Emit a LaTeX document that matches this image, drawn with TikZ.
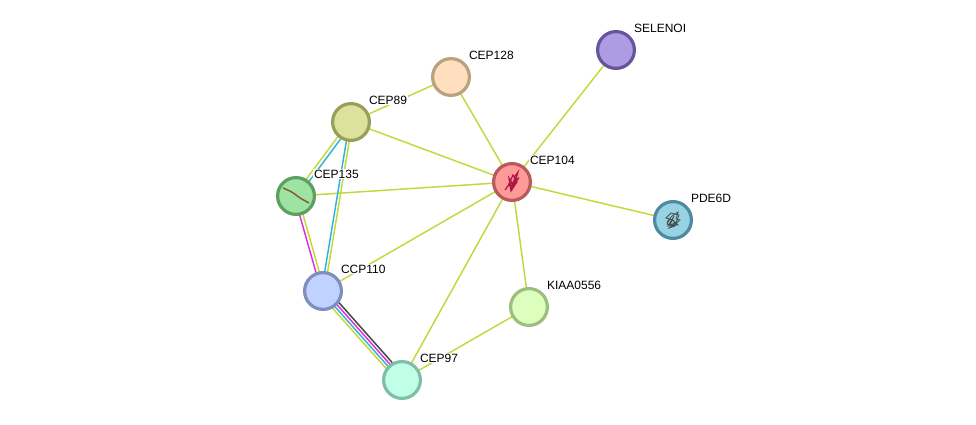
\documentclass[tikz,border=0pt]{standalone}
\usepackage{fontspec}
\setmainfont{Liberation Sans}
\usetikzlibrary{backgrounds}

\definecolor{linkgreen}{HTML}{C2D83C}
\definecolor{linkcyan}{HTML}{2FB4D8}
\definecolor{linkpink}{HTML}{DC2FDC}
\definecolor{linkdark}{HTML}{444444}

\definecolor{cepA}{HTML}{B9A27E}\definecolor{cepAfill}{HTML}{FFDFBF}
\definecolor{selA}{HTML}{66559B}\definecolor{selAfill}{HTML}{AF9BE3}
\definecolor{cepB}{HTML}{979F5A}\definecolor{cepBfill}{HTML}{DCE29B}
\definecolor{cepC}{HTML}{B85A5A}\definecolor{cepCfill}{HTML}{FF9A9A}
\definecolor{cepD}{HTML}{5AA060}\definecolor{cepDfill}{HTML}{9FE3A3}
\definecolor{pdeA}{HTML}{4F8BA0}\definecolor{pdeAfill}{HTML}{96D3E3}
\definecolor{ccpA}{HTML}{7F8DBF}\definecolor{ccpAfill}{HTML}{C0D2FF}
\definecolor{kiaA}{HTML}{9DBF7E}\definecolor{kiaAfill}{HTML}{DCFFBE}
\definecolor{cepE}{HTML}{7FBFA8}\definecolor{cepEfill}{HTML}{C0FFE8}

\begin{document}
\begin{tikzpicture}[x=0.75pt,y=-0.75pt,
        proteinnode/.style 2 args={circle, draw=#1, fill=#2, line width=2.4pt, minimum size=27.6pt, inner sep=0pt},
        namelabel/.style={anchor=west, fill=white, inner sep=0.6pt, font=\fontsize{9}{10}\selectfont},
        link/.style={draw=linkgreen, line width=1.1pt}]

        \useasboundingbox (0,0) rectangle (976,425);

        \node[proteinnode={cepA}{cepAfill}] (cep128) at (451,77) {};
        \node[proteinnode={selA}{selAfill}] (selenoi) at (616,50) {};
        \node[proteinnode={cepB}{cepBfill}] (cep89) at (351,122) {};
        \node[proteinnode={cepC}{cepCfill}] (cep104) at (512,182) {};
        \node[proteinnode={cepD}{cepDfill}] (cep135) at (296,196) {};
        \node[proteinnode={pdeA}{pdeAfill}] (pde6d) at (673,220) {};
        \node[proteinnode={ccpA}{ccpAfill}] (ccp110) at (323,291) {};
        \node[proteinnode={kiaA}{kiaAfill}] (kiaa0556) at (529,307) {};
        \node[proteinnode={cepE}{cepEfill}] (cep97) at (402,380) {};

        % structures inside the nodes
        \draw[brown!70!black, line width=1.1pt, rounded corners=2pt] (283,188) -- (292,192) -- (300,198) -- (309,203);
        \draw[purple!85!black, line width=0.9pt, opacity=0.85] (505,190) -- (510,183) -- (512,189) -- (515,176) -- (518,172) -- (514,186) -- (509,178) -- (511,191) -- (517,182) -- (513,175) -- (508,186) -- (516,180) -- (510,188) -- (519,178);
        \draw[black!75, line width=0.6pt, opacity=0.9] (667,222) -- (672,216) -- (678,212) -- (676,219) -- (680,220) -- (673,226) -- (667,224) -- (670,219) -- (675,222) -- (669,228) -- (675,226) -- (679,215) -- (671,213) -- (666,218) -- (673,220) -- (678,225) -- (670,225) -- (674,216) -- (668,226) -- (677,222);

        \begin{scope}[on background layer]
        \draw[link] (cep128.center) -- (cep89.center);
        \draw[link] (cep128.center) -- (cep104.center);
        \draw[link] (selenoi.center) -- (cep104.center);
        \draw[link] (cep89.center) -- (cep104.center);
        \draw[link] (cep135.center) -- (cep104.center);
        \draw[link] (pde6d.center) -- (cep104.center);
        \draw[link] (ccp110.center) -- (cep104.center);
        \draw[link] (kiaa0556.center) -- (cep104.center);
        \draw[link] (cep97.center) -- (cep104.center);
        \draw[link] (kiaa0556.center) -- (cep97.center);

        % double links
        \draw[link] ([xshift=-1.1pt,yshift=0.8pt]cep89.center) -- ([xshift=-1.1pt,yshift=0.8pt]cep135.center);
        \draw[link, draw=linkcyan] ([xshift=1.1pt,yshift=-0.8pt]cep89.center) -- ([xshift=1.1pt,yshift=-0.8pt]cep135.center);
        \draw[link, draw=linkcyan] ([xshift=-1.1pt]cep89.center) -- ([xshift=-1.1pt]ccp110.center);
        \draw[link] ([xshift=1.1pt]cep89.center) -- ([xshift=1.1pt]ccp110.center);
        \draw[link, draw=linkpink] ([xshift=-1.2pt,yshift=-0.35pt]cep135.center) -- ([xshift=-1.2pt,yshift=-0.35pt]ccp110.center);
        \draw[link] ([xshift=1.2pt,yshift=0.35pt]cep135.center) -- ([xshift=1.2pt,yshift=0.35pt]ccp110.center);

        % four links
        \draw[link, draw=linkdark] ([xshift=2.4pt,yshift=2.1pt]ccp110.center) -- ([xshift=2.4pt,yshift=2.1pt]cep97.center);
        \draw[link, draw=linkpink] ([xshift=0.8pt,yshift=0.7pt]ccp110.center) -- ([xshift=0.8pt,yshift=0.7pt]cep97.center);
        \draw[link, draw=linkcyan] ([xshift=-0.8pt,yshift=-0.7pt]ccp110.center) -- ([xshift=-0.8pt,yshift=-0.7pt]cep97.center);
        \draw[link] ([xshift=-2.4pt,yshift=-2.1pt]ccp110.center) -- ([xshift=-2.4pt,yshift=-2.1pt]cep97.center);
        \end{scope}

        \node[namelabel] (cep128label) at (468,55) {CEP128};
        \node[namelabel] (selenoilabel) at (633,28) {SELENOI};
        \node[namelabel] (cep89label) at (368,100) {CEP89};
        \node[namelabel] (cep104label) at (529,160) {CEP104};
        \node[namelabel] (cep135label) at (313,174) {CEP135};
        \node[namelabel] (pde6dlabel) at (690,198) {PDE6D};
        \node[namelabel] (ccp110label) at (340,269) {CCP110};
        \node[namelabel] (kiaa0556label) at (546,285) {KIAA0556};
        \node[namelabel] (cep97label) at (419,358) {CEP97};

        \end{tikzpicture}
\end{document}
